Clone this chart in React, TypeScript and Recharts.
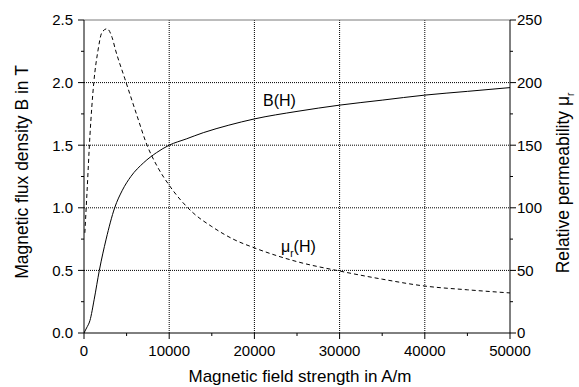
import { LineChart, Line, XAxis, YAxis, CartesianGrid, ReferenceLine } from 'recharts'

// B(H) curve, field strength in A/m and flux density in T
const hB = [0, 300, 700, 1200, 1800, 2600, 3600, 4500, 5500, 7000, 8500, 10000, 12000, 14000, 17000, 20000, 25000, 30000, 35000, 40000, 45000, 50000]
const bVals = [0, 0.04, 0.1, 0.27, 0.5, 0.75, 1.0, 1.14, 1.25, 1.36, 1.44, 1.5, 1.55, 1.6, 1.66, 1.71, 1.77, 1.82, 1.86, 1.9, 1.93, 1.96]

// relative permeability curve
const hMu = [100, 350, 700, 1150, 1650, 2100, 2700, 3300, 3700, 4800, 6200, 7400, 8600, 10000, 12800, 15000, 17500, 20000, 25000, 30000, 35000, 40000, 45000, 50000]
const muVals = [80, 112, 158, 200, 226, 240, 243, 236, 226, 203, 174, 150, 133, 118, 96, 85, 75, 68, 57, 49.5, 43, 37.5, 34.5, 32]

const xTicks = [0, 5000, 10000, 15000, 20000, 25000, 30000, 35000, 40000, 45000, 50000]
const bTicks = [0, 0.25, 0.5, 0.75, 1, 1.25, 1.5, 1.75, 2, 2.25, 2.5]
const muTicks = [0, 25, 50, 75, 100, 125, 150, 175, 200, 225, 250]

const bData = hB.map((h, i) => ({ h, b: bVals[i] }))
const muData = hMu.map((h, i) => ({ h, mu: muVals[i] }))

const FONT = '"Liberation Sans", Arial, sans-serif'

const isMajor = (v: number, step: number) => Math.abs(v / step - Math.round(v / step)) < 1e-6

function LeftTick({ x, y, payload }: any) {
  const v = payload.value
  const major = isMajor(v, 0.5)
  return (
    <g>
      <line x1={x - (major ? 6 : 3)} x2={x} y1={y} y2={y} stroke="#000" />
      {major && (
        <text x={x - 11} y={y} dy="0.36em" textAnchor="end" fontSize={15} fontFamily={FONT} fill="#000">
          {v.toFixed(1)}
        </text>
      )}
    </g>
  )
}

function RightTick({ x, y, payload }: any) {
  const v = payload.value
  const major = isMajor(v, 50)
  return (
    <g>
      <line x1={x} x2={x + (major ? 6 : 3)} y1={y} y2={y} stroke="#000" />
      {major && (
        <text x={x + 7} y={y} dy="0.36em" textAnchor="start" fontSize={15} fontFamily={FONT} fill="#000">
          {v}
        </text>
      )}
    </g>
  )
}

function BottomTick({ x, y, payload }: any) {
  const v = payload.value
  const major = isMajor(v, 10000)
  return (
    <g>
      <line x1={x} x2={x} y1={y} y2={y + (major ? 6 : 3)} stroke="#000" />
      {major && (
        <text x={x} y={y + 23} textAnchor="middle" fontSize={15} fontFamily={FONT} fill="#000">
          {v}
        </text>
      )}
    </g>
  )
}

export default function App() {
  return (
    <div style={{ position: 'absolute', left: 0, top: 0, background: '#fff' }}>
      <LineChart width={579} height={387} margin={{ top: 20, right: 0, bottom: 0, left: 0 }}>
        <CartesianGrid
          yAxisId="B"
          stroke="#000"
          strokeDasharray="1 1"
          horizontalValues={[0.5, 1, 1.5, 2]}
          verticalValues={[10000, 20000, 30000, 40000]}
        />
        <XAxis
          type="number"
          dataKey="h"
          domain={[0, 50000]}
          ticks={xTicks}
          interval={0}
          height={54}
          tickSize={0}
          tickMargin={0}
          tick={BottomTick}
          stroke="#000"
          allowDataOverflow
        />
        <YAxis
          yAxisId="B"
          domain={[0, 2.5]}
          ticks={bTicks}
          interval={0}
          width={84}
          tickSize={0}
          tickMargin={0}
          tick={LeftTick}
          stroke="#000"
        />
        <YAxis
          yAxisId="mu"
          orientation="right"
          domain={[0, 250]}
          ticks={muTicks}
          interval={0}
          width={69}
          tickSize={0}
          tickMargin={0}
          tick={RightTick}
          stroke="#000"
        />
        <ReferenceLine yAxisId="B" y={2.5} stroke="#7a7a7a" />
        <Line
          yAxisId="B"
          data={bData}
          dataKey="b"
          type="monotone"
          stroke="#000"
          strokeWidth={1}
          dot={false}
          isAnimationActive={false}
        />
        <Line
          yAxisId="mu"
          data={muData}
          dataKey="mu"
          type="monotone"
          stroke="#000"
          strokeWidth={1}
          strokeDasharray="4 3"
          dot={false}
          isAnimationActive={false}
        />
        <text x={263} y={106} fontSize={16} fontFamily={FONT} fill="#000">B(H)</text>
        <text x={281} y={252} fontSize={16} fontFamily={FONT} fill="#000">
          μ<tspan dy={5} fontSize={10}>r</tspan>
          <tspan dy={-5}>(H)</tspan>
        </text>
        <text
          x={300}
          y={382}
          textAnchor="middle"
          fontSize={17}
          fontFamily={FONT}
          fill="#000"
        >
          Magnetic field strength in A/m
        </text>
        <text
          transform="translate(28,172) rotate(-90)"
          textAnchor="middle"
          fontSize={17.5}
          fontFamily={FONT}
          fill="#000"
        >
          Magnetic flux density B in T
        </text>
        <text
          transform="translate(569,183) rotate(-90)"
          textAnchor="middle"
          fontSize={17.5}
          fontFamily={FONT}
          fill="#000"
        >
          Relative permeability μ<tspan dy={5} fontSize={10}>r</tspan>
        </text>
      </LineChart>
    </div>
  )
}
